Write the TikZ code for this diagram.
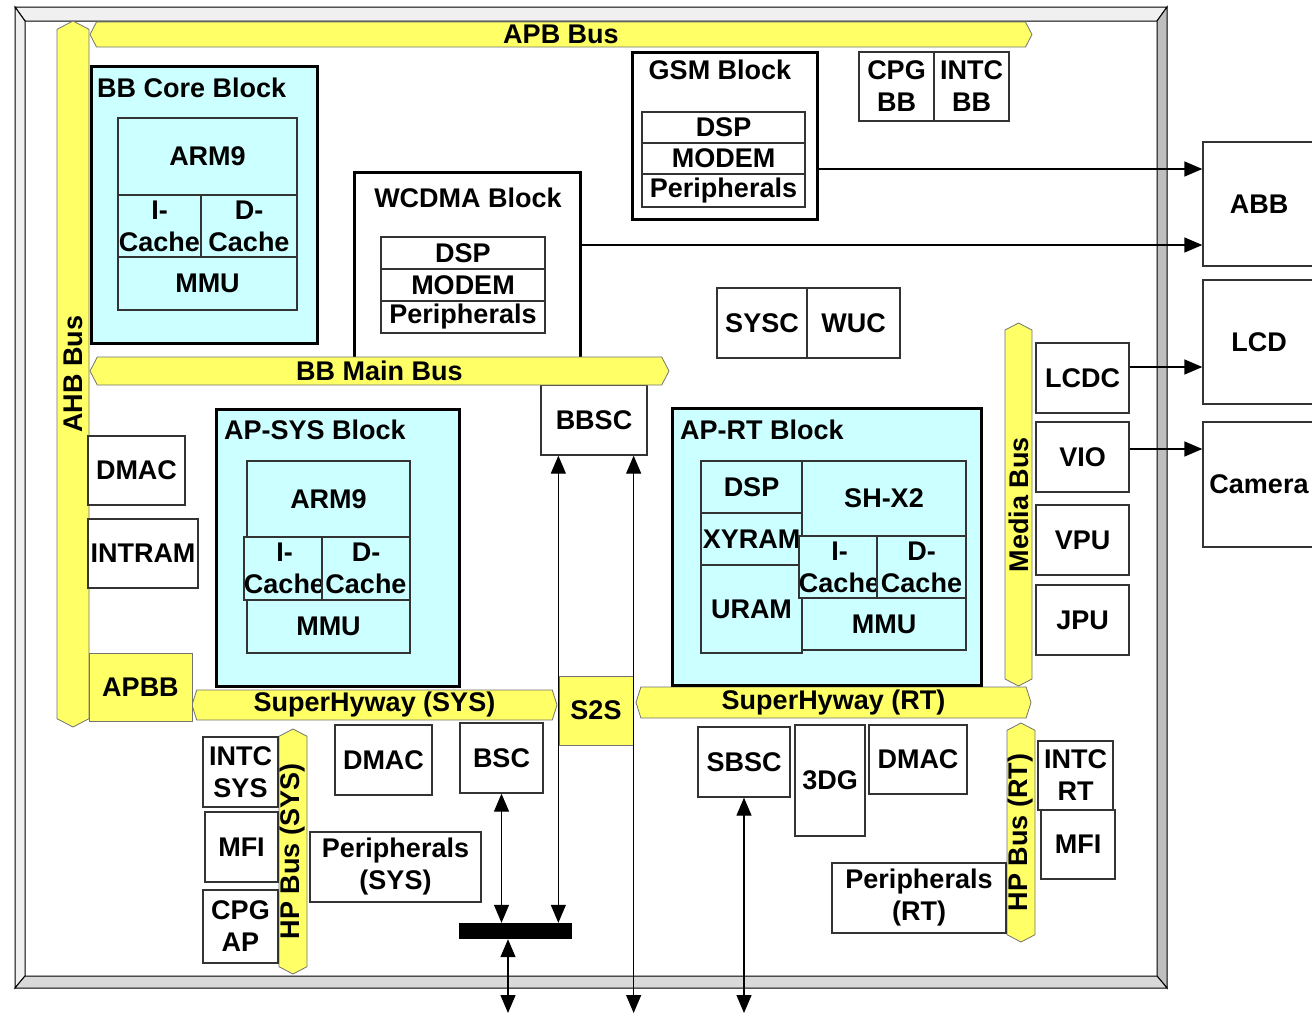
\documentclass[tikz,border=0pt]{standalone}
\usepackage{fontspec}
\setmainfont{Liberation Sans}
\usetikzlibrary{shapes.symbols,arrows.meta}

\definecolor{busyellow}{HTML}{FFFF66}
\definecolor{corecyan}{HTML}{CCFFFF}
\newcommand\chipfont{\bfseries\fontsize{27}{32}\selectfont}

\begin{document}
\begin{tikzpicture}[
    x=1pt, y=-1pt,
    every node/.style={font=\chipfont, inner sep=0pt, align=center},
    sz/.style 2 args={minimum width=#1pt, minimum height=#2pt},
    unit/.style={draw=black!80, line width=1.3pt, fill=white},
    core/.style={unit, fill=corecyan},
    block/.style={draw, line width=3pt},
    title/.style={anchor=west},
    bus/.style={signal, signal to=east and west, signal pointer angle=125,
                fill=busyellow, draw=black!55, line width=0.8pt},
    yel/.style={draw=black!55, line width=0.8pt, fill=busyellow},
    oneway/.style={line width=1.3pt, -{Triangle[length=18pt,width=15pt]}},
    twoway/.style={line width=1.3pt, {Triangle[length=18pt,width=15pt]}-{Triangle[length=18pt,width=15pt]}}
]
\useasboundingbox (0,0) rectangle (1312,1015);

% Chip frame
\fill[white] (15,7) rectangle (1167,988);
\begin{scope}[draw=black, line width=1pt]
\filldraw[fill=gray!12] (15,7) -- (1167,7) -- (1157,21) -- (25,21) -- cycle;
\filldraw[fill=gray!12] (15,7) -- (25,21) -- (25,976) -- (15,988) -- cycle;
\filldraw[fill=gray!50] (1167,7) -- (1157,21) -- (1157,976) -- (1167,988) -- cycle;
\filldraw[fill=gray!30] (15,988) -- (25,976) -- (1157,976) -- (1167,988) -- cycle;
\end{scope}

% BB core block
\node[block, fill=corecyan, sz={226}{277}] (bbcore) at (204,204.5) {};
\node[title] (bbcoret) at (97,88) {BB Core Block};
\node[core, sz={179}{77}] (arm9a) at (207.5,156.5) {ARM9};
\node[core, sz={83}{62}] (icachea) at (159.5,226) {I-\\Cache};
\node[core, sz={96}{62}] (dcachea) at (249,226) {D-\\Cache};
\node[core, sz={179}{53}] (mmua) at (207.5,283.5) {MMU};

% WCDMA block
\node[block, fill=white, sz={226}{186}] (wcdma) at (467,265) {};
\node (wcdmat) at (468,198) {WCDMA Block};
\node[unit, sz={164}{32}] (wdsp) at (463,253) {DSP};
\node[unit, sz={164}{32}] (wmodem) at (463,285) {MODEM};
\node[unit, sz={164}{32}] (wper) at (463,317) {Peripherals};

% GSM block
\node[block, fill=white, sz={185}{167}] (gsm) at (724.5,135.5) {};
\node (gsmt) at (720,70) {GSM Block};
\node[unit, sz={163}{31}] (gdsp) at (723.5,127.5) {DSP};
\node[unit, sz={163}{31}] (gmodem) at (723.5,158.5) {MODEM};
\node[unit, sz={163}{33}] (gper) at (723.5,190.5) {Peripherals};

% BB side units
\node[unit, sz={75}{69}] (cpgbb) at (896.5,86.5) {CPG\\BB};
\node[unit, sz={75}{69}] (intcbb) at (971.5,86.5) {INTC\\BB};
\node[unit, sz={90}{70}] (sysc) at (762,323) {SYSC};
\node[unit, sz={93}{70}] (wuc) at (853.5,323) {WUC};
\node[unit, sz={106}{70}] (bbsc) at (594,420) {BBSC};

% Buses
\node[bus, sz={942}{25}] (apb) at (561,34.5) {APB Bus};
\node[bus, sz={706}{32}, rotate=90] (ahb) at (73,374) {AHB Bus};
\node[bus, sz={579}{28}] (bbmain) at (379.5,371) {BB Main Bus};
\node[bus, sz={363}{27}, rotate=90] (media) at (1018.5,504.5) {Media Bus};
\node[bus, sz={365}{30}, signal pointer angle=145] (shsys) at (374.5,705) {SuperHyway (SYS)};
\node[bus, sz={395}{31}, signal pointer angle=145] (shrt) at (833.5,702.5) {SuperHyway (RT)};
\node[bus, sz={245}{28}, rotate=90] (hpsys) at (293,851.5) {HP Bus (SYS)};
\node[bus, sz={219}{28}, rotate=90] (hprt) at (1021,832.5) {HP Bus (RT)};
\node[yel, sz={103}{68}] (apbb) at (140.5,687) {APBB};
\node[yel, sz={74}{69}] (s2s) at (596,710.5) {S2S};

% AP-SYS block
\node[block, fill=corecyan, sz={243}{277}] (apsys) at (337.5,547.5) {};
\node[title] (apsyst) at (224,430) {AP-SYS Block};
\node[core, sz={163}{76}] (arm9b) at (328.5,499) {ARM9};
\node[core, sz={75}{63}] (icacheb) at (284.5,568.5) {I-\\Cache};
\node[core, sz={88}{63}] (dcacheb) at (366,568.5) {D-\\Cache};
\node[core, sz={163}{53}] (mmub) at (328.5,626.5) {MMU};

% AP-RT block
\node[block, fill=corecyan, sz={309}{277}] (aprt) at (826.5,546.5) {};
\node[title] (aprtt) at (680,430) {AP-RT Block};
\node[core, sz={101}{52}] (rdsp) at (751.5,487) {DSP};
\node[core, sz={101}{52}] (xyram) at (751.5,539) {XYRAM};
\node[core, sz={101}{88}] (uram) at (751.5,609) {URAM};
\node[core, sz={164}{75}] (shx2) at (884,498.5) {SH-X2};
\node[core, sz={75}{62}] (icachec) at (839.5,567) {I-\\Cache};
\node[core, sz={89}{62}] (dcachec) at (921.5,567) {D-\\Cache};
\node[core, sz={164}{52}] (mmuc) at (884,624) {MMU};

% AHB side units
\node[unit, sz={97}{69}] (dmaca) at (136.5,470.5) {DMAC};
\node[unit, sz={110}{69}] (intram) at (143,553.5) {INTRAM};

% Media bus units
\node[unit, sz={93}{70}] (lcdc) at (1082.5,378) {LCDC};
\node[unit, sz={93}{70}] (vio) at (1082.5,457) {VIO};
\node[unit, sz={93}{70}] (vpu) at (1082.5,540) {VPU};
\node[unit, sz={93}{70}] (jpu) at (1082.5,620) {JPU};

% SYS side units
\node[unit, sz={75}{70}] (intcsys) at (240.5,772) {INTC\\SYS};
\node[unit, sz={73}{70}] (mfia) at (241.5,847) {MFI};
\node[unit, sz={75}{73}] (cpgap) at (240.5,926.5) {CPG\\AP};
\node[unit, sz={97}{70}] (dmacb) at (383.5,760) {DMAC};
\node[unit, sz={83}{70}] (bsc) at (501.5,758) {BSC};
\node[unit, sz={171}{70}] (persys) at (395.5,867) {Peripherals\\(SYS)};
\node[fill=black, sz={113}{16}] (bar) at (515.5,931) {};

% RT side units
\node[unit, sz={92}{70}] (sbsc) at (744,762) {SBSC};
\node[unit, sz={70}{111}] (gfx) at (830,780.5) {3DG};
\node[unit, sz={98}{69}] (dmacc) at (918,759.5) {DMAC};
\node[unit, sz={75}{69}] (intcrt) at (1075.5,775.5) {INTC\\RT};
\node[unit, sz={74}{69}] (mfib) at (1078,844.5) {MFI};
\node[unit, sz={174}{70}] (perrt) at (919,898) {Peripherals\\(RT)};

% Off-chip devices
\node[unit, sz={112}{124}] (abb) at (1259,204) {ABB};
\node[unit, sz={112}{124}] (lcd) at (1259,342) {LCD};
\node[unit, sz={112}{125}] (camera) at (1259,484.5) {Camera};

% Connections
\coordinate (out1) at (508,1013);
\coordinate (out2) at (633,1013);
\coordinate (out3) at (745,1013);
\draw[oneway] ([yshift=-33.5pt]gsm.east) -- ([yshift=-33.5pt]gsm.east -| abb.west);
\draw[oneway] ([yshift=20pt]wcdma.east) -- ([yshift=20pt]wcdma.east -| abb.west);
\draw[oneway] ([yshift=11pt]lcdc.east) -- ([yshift=11pt]lcdc.east -| lcd.west);
\draw[oneway] ([yshift=8pt]vio.east) -- ([yshift=8pt]vio.east -| camera.west);
\draw[twoway] ([xshift=18pt]bbsc.south west) -- ([xshift=18pt]bbsc.south west |- bar.north);
\draw[twoway] ([xshift=-14pt]bbsc.south east) -- ([xshift=-14pt]bbsc.south east |- out2);
\draw[twoway] (bsc.south) -- (bsc.south |- bar.north);
\draw[twoway] (bar.south -| out1) -- (out1);
\draw[twoway] (sbsc.south) -- (sbsc.south |- out3);

\end{tikzpicture}
\end{document}
